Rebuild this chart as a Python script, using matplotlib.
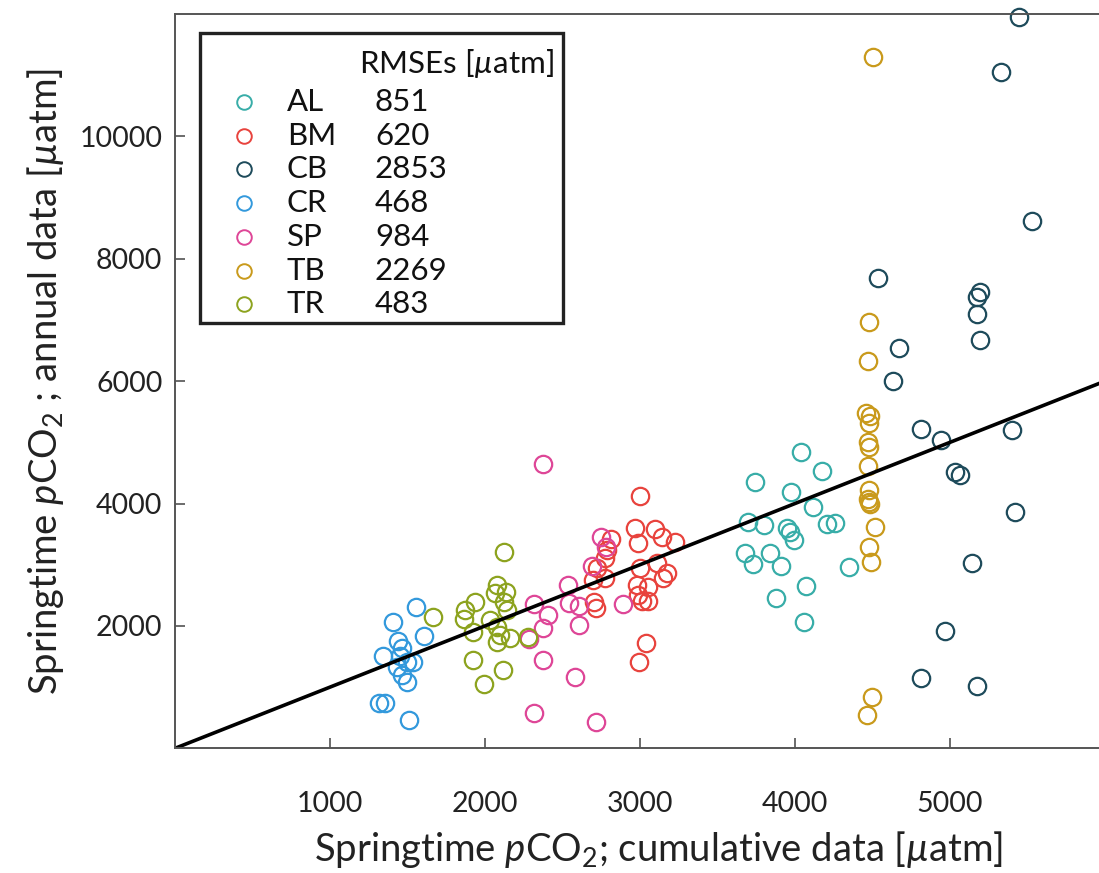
import matplotlib
matplotlib.use("Agg")
import matplotlib.pyplot as plt
from matplotlib.patches import Rectangle

plt.rcParams['font.family'] = ['Lato', 'DejaVu Sans']
plt.rcParams['mathtext.fontset'] = 'custom'
plt.rcParams['mathtext.rm'] = 'Lato'
plt.rcParams['mathtext.it'] = 'Lato:italic'
plt.rcParams['mathtext.default'] = 'it'

# springtime pCO2 per site: cumulative (x) vs annual (y), in uatm
sites = ['AL', 'BM', 'CB', 'CR', 'SP', 'TB', 'TR']
rmse = [851, 620, 2853, 468, 984, 2269, 483]
colors = ['#38ADA8', '#E8433D', '#1E4B5B', '#3399DC', '#DE4697', '#C99A1C', '#8DA31F']

AL_x = [4039, 4174, 3742, 3974, 4116, 3697, 3800, 3948, 3968, 3994, 4206, 4258, 3677, 3839,
        3729, 3910, 4348, 4071, 3877, 4058]
AL_y = [4845, 4534, 4354, 4191, 3945, 3700, 3651, 3602, 3536, 3405, 3667, 3683, 3192, 3192,
        3012, 2979, 2963, 2652, 2455, 2062]

BM_x = [3000, 2968, 3097, 3142, 3226, 2987, 2813, 2787, 2774, 2723, 3110, 3000, 3174, 3148,
        2697, 2774, 2981, 3052, 2987, 3013, 3052, 2703, 2716, 3039, 2994]
BM_y = [4130, 3606, 3590, 3459, 3377, 3361, 3426, 3246, 3115, 2952, 3033, 2952, 2870, 2788,
        2755, 2788, 2673, 2641, 2510, 2412, 2412, 2395, 2297, 1724, 1413]

CB_x = [5445, 5329, 5529, 4535, 5194, 5174, 5174, 5194, 4671, 4632, 4813, 4942, 5400, 5032,
        5065, 5419, 5142, 4968, 4813, 5174]
CB_y = [11950, 11050, 8615, 7680, 7450, 7370, 7090, 6665, 6540, 6000, 5210, 5045, 5195, 4510,
        4460, 3870, 3035, 1925, 1155, 1025]

CR_x = [1555, 1406, 1606, 1342, 1439, 1465, 1452, 1497, 1535, 1432, 1465, 1497, 1316, 1355, 1510]
CR_y = [2316, 2071, 1838, 1511, 1756, 1641, 1511, 1412, 1412, 1330, 1199, 1085, 741, 741, 463]

SP_x = [2374, 2748, 2781, 2690, 2535, 2316, 2406, 2542, 2606, 2890, 2374, 2606, 2284, 2374,
        2581, 2316, 2716]
SP_y = [4653, 3459, 3288, 2984, 2673, 2362, 2182, 2379, 2330, 2362, 1969, 2019, 1789, 1445,
        1167, 577, 429]

TB_x = [4503, 4477, 4471, 4458, 4484, 4477, 4471, 4477, 4471, 4477, 4471, 4477, 4484, 4516,
        4477, 4490, 4497, 4465]
TB_y = [11290, 6964, 6325, 5474, 5425, 5310, 4999, 4918, 4607, 4214, 4067, 4018, 3985, 3609,
        3282, 3037, 844, 549]

TR_x = [2123, 1665, 1935, 1871, 1865, 1923, 2077, 2065, 2135, 2123, 2142, 2032, 2077, 2097,
        2077, 2161, 2277, 1923, 2116, 1994]
TR_y = [3213, 2149, 2395, 2264, 2117, 1904, 2673, 2542, 2559, 2395, 2264, 2100, 1986, 1855,
        1740, 1806, 1822, 1445, 1282, 1052]

xs = [AL_x, BM_x, CB_x, CR_x, SP_x, TB_x, TR_x]
ys = [AL_y, BM_y, CB_y, CR_y, SP_y, TB_y, TR_y]

one_to_one = [0, 6000]

fig = plt.figure(figsize=(10.99, 8.73), dpi=100)
ax = fig.add_axes([0.1592, 0.1428, 0.8462, 0.8412])

for x, y, c in zip(xs, ys, colors):
    ax.plot(x, y, 'o', ms=12.5, mfc='none', mec=c, mew=1.6, clip_on=False)

ax.plot(one_to_one, one_to_one, color='black', lw=2.6)

ax.set_xlim(0, 6000)
ax.set_ylim(0, 12000)
ax.set_xticks([1000, 2000, 3000, 4000, 5000])
ax.set_yticks([2000, 4000, 6000, 8000, 10000])
ax.tick_params(direction='in', length=7, width=1.1, color='#444444', labelsize=20.5,
               labelcolor='#222222')
ax.tick_params(axis='x', pad=31)
ax.tick_params(axis='y', pad=9)
for s in ['left', 'bottom', 'top']:
    ax.spines[s].set_color('#555555')
    ax.spines[s].set_linewidth(1.4)
ax.spines['right'].set_visible(False)

ax.set_xlabel(r'Springtime $p$CO$_2$; cumulative data [$µ$atm]', fontsize=27.5,
              color='#222222', labelpad=8)
ax.xaxis.label.set_x(0.52)
ax.set_ylabel(r'Springtime $p$CO$_2$ ; annual data [$µ$atm]', fontsize=27.5,
              color='#222222', labelpad=10)

# legend box with RMSE per site
ax.add_patch(Rectangle((0.0269, 0.5792), 0.3903, 0.3953, transform=ax.transAxes,
                       fill=False, ec='#222222', lw=2.4, zorder=5))
ax.text(0.1978, 0.932, r'RMSEs [$µ$atm]', transform=ax.transAxes, fontsize=22.5,
        va='center', ha='left', color='#111111')
for i, (name, val, c) in enumerate(zip(sites, rmse, colors)):
    yy = 0.8804 - i * 0.046
    ax.plot([0.0742], [yy], 'o', transform=ax.transAxes, ms=10.5, mfc='none', mec=c,
            mew=1.4, clip_on=False)
    ax.text(0.1204, yy, name, transform=ax.transAxes, fontsize=22.5, va='center',
            color='#111111')
    ax.text(0.2151, yy, str(val), transform=ax.transAxes, fontsize=22.5, va='center',
            color='#111111')

fig.savefig('out.png', dpi=100)
